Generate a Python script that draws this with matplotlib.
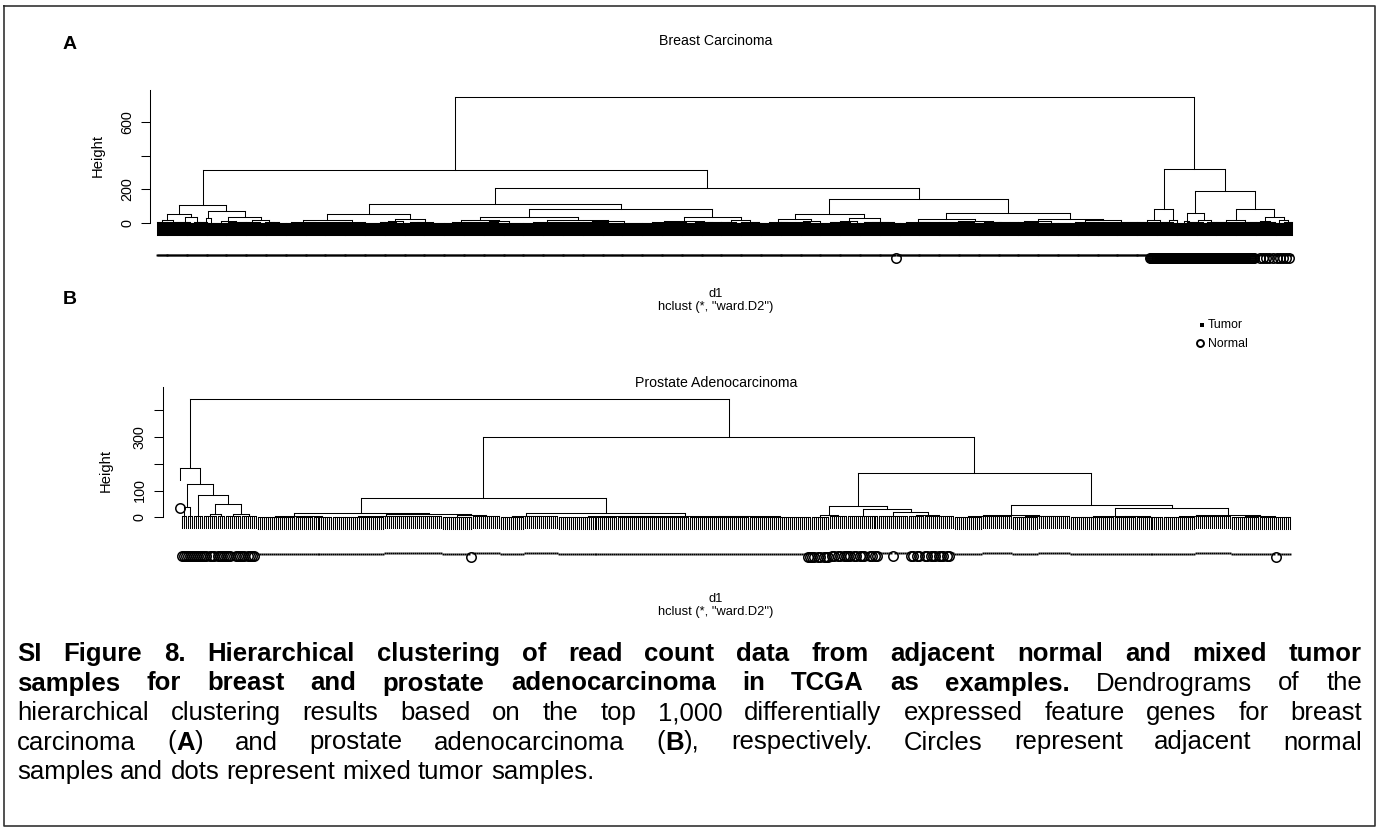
import re

import matplotlib
matplotlib.use('Agg')
import matplotlib.pyplot as plt
import matplotlib.transforms as mtransforms
from matplotlib.collections import LineCollection
from matplotlib.lines import Line2D

W, H = 1380, 831

plt.rcParams['font.family'] = ['Liberation Sans', 'DejaVu Sans']

# Trees: a list [height, child, child, ...] is a merge, a tuple
# (height, 'runs') is a block of leaves joined at that height.
# Runs give the leaf classes in order: '3t1n' = 3 tumor, then 1 normal.
BRCA_TREE = [750,
    [315,
        [109,
            [53,
                [18, (4, "11t"), (6, "13t")],
                [37, (5, "12t"), [9, (3, "6t"), (4, "7t")]]],
            [71,
                [32, (4, "5t"), (3, "6t")],
                [34,
                    [12, (3, "15t"), (5, "17t")],
                    [20, (4, "17t"), [9, (3, "9t"), (5, "11t")]]]]],
        [206,
            [111,
                [53,
                    [20, [8, (3, "24t"), (4, "26t")], [6, (5, "25t"), (3, "30t")]],
                    [26, [11, (4, "18t"), (3, "14t")], [9, (5, "15t"), (3, "18t")]]],
                [83,
                    [37,
                        [20, [7, (3, "22t"), (5, "18t")], [10, (4, "20t"), (3, "22t")]],
                        [18, [8, (3, "30t"), (5, "28t")], [11, (4, "36t"), (2, "32t")]]],
                    [37,
                        [14, [6, (3, "28t"), (4, "22t")], [7, (3, "18t"), (5, "18t")]],
                        [20, [9, (4, "12t"), (3, "8t")], (5, "20t")]]]],
            [143,
                [53,
                    [22, [7, (3, "20t"), (4, "18t")], [10, (5, "16t"), (3, "20t")]],
                    [32, [12, (4, "22t"), (3, "14t")], [8, (4, "18t"), (5, "14t")]]],
                [57,
                    [26, [9, (3, "1t1n22t"), (4, "26t")],
                         [14, (5, "34t"), [6, (3, "20t"), (4, "17t")]]],
                    [26, [10, (4, "30t"), (3, "28t")],
                         [15, [7, (3, "22t"), (4, "18t")], (5, "39t")]]]]]],
    [321,
        [81,
            [15, (4, "10t6n"), (5, "11n")],
            [20, (6, "8n"), (3, "9n")]],
        [190,
            [59,
                [10, (3, "5n"), (4, "6n")],
                [20, (5, "12n"), [8, (3, "7n"), (4, "8n")]]],
            [81,
                [18, (4, "18n"), (5, "20n")],
                [37,
                    [12, (4, "6t1n2t1n2t"), (5, "1n2t1n3t1n2t")],
                    [20, (3, "2t1n2t1n2t1n"), (4, "2t1n2t1n3t")]]]]]]

PRAD_TREE = [442,
    [183,
        (0, "1n"),
        [126,
            [38, (6, "3n"), (4, "3n")],
            [82,
                (5, "5n"),
                [51,
                    [13, (3, "2n1t3n1t"), (5, "4n")],
                    [13, (4, "3n2t3n"), (6, "2n1t4n1t")]]]]],
    [300,
        [73,
            [16,
                [4, [2, (1, "9t"), (1.5, "10t")], [3, (1, "9t"), (2, "10t")]],
                [12, [5, (2, "26t"), (3, "29t")], [7, (2, "14t1n"), (3, "14t")]]],
            [17.5,
                [6, (2, "12t"), (3, "17t")],
                [5, [3, (1, "30t"), (2, "36t")], [4, (2, "30t"), (1.5, "29t2n")]]]],
        [167,
            [43,
                [9, (2, "2n1t2n1t3n"), (4, "1t2n1t2n1t2n")],
                [32,
                    (5, "2n1t2n1t3n2t2n1t2n"),
                    [21, (4, "7t1n7t"),
                         [10, (3, "1t2n1t2n2t"), (5, "2n1t3n1t3n1t2n2t")]]]],
            [45,
                [7.5, [4, (2, "14t"), (3, "15t")], [5, (1.5, "13t"), (3, "16t")]],
                [36,
                    [5, [2, (1, "12t"), (1.5, "10t")], [3, (1, "11t"), (2, "14t")]],
                    [8.5, [4, (2, "16t"), (3, "18t")],
                          [3, (1.5, "14t"), (2, "8t1n7t")]]]]]]]

BRCA_TICKS = [0, 200, 400, 600]
BRCA_TICK_LABELS = ['0', '200', '', '600']
PRAD_TICKS = [0, 100, 200, 300, 400]
PRAD_TICK_LABELS = ['0', '100', '', '300', '']

TITLES = ['Breast Carcinoma', 'Prostate Adenocarcinoma']
PANEL_TAGS = ['A', 'B']
XLABEL = 'd1'
SUBLABEL = 'hclust (*, "ward.D2")'
LEGEND_LABELS = ['Tumor', 'Normal']

CAPTION = [
    [("SI Figure 8. Hierarchical clustering of read count data from adjacent "
      "normal and mixed tumor", True)],
    [("samples for breast and prostate adenocarcinoma in TCGA as examples.", True),
     (" Dendrograms of the", False)],
    [("hierarchical clustering results based on the top 1,000 differentially "
      "expressed feature genes for breast", False)],
    [("carcinoma (", False), ("A", True), (") and prostate adenocarcinoma (", False),
     ("B", True), ("), respectively. Circles represent adjacent normal", False)],
    [("samples and dots represent mixed tumor samples.", False)],
]

fig = plt.figure(figsize=(W / 100, H / 100), dpi=100)
# pixel coordinates measured from the top-left corner
px = mtransforms.Affine2D().scale(1 / W, -1 / H).translate(0, 1) + fig.transFigure


def expand(runs):
    out = []
    for n, k in re.findall(r'(\d+)([tn])', runs):
        out += [k] * int(n)
    return out


def build(node, parent_h, hang, st):
    """Lay out a tree; returns x and top height, fills segments and leaves."""
    if isinstance(node, tuple):
        h, runs = node
        kinds = expand(runs)
        if len(kinds) == 1:
            h = parent_h
        xs = []
        for k in kinds:
            x = st['n']
            st['n'] += 1
            st['segs'].append([(x, h), (x, h - hang)])
            st['leaves'].append((x, h - hang, k))
            xs.append(x)
        if len(xs) > 1:
            st['segs'].append([(xs[0], h), (xs[-1], h)])
        return (xs[0] + xs[-1]) / 2, h
    h = node[0]
    tops = [build(c, h, hang, st) for c in node[1:]]
    for x, t in tops:
        if t < h:
            st['segs'].append([(x, t), (x, h)])
    st['segs'].append([(tops[0][0], h), (tops[-1][0], h)])
    return (tops[0][0] + tops[-1][0]) / 2, h


def draw_panel(tree, box, ylim, ticks, tick_labels, axis_top, gap, drop):
    left, top, right, bottom = box
    ax = fig.add_axes([left / W, 1 - bottom / H, (right - left) / W, (bottom - top) / H])
    hang = 0.1 * tree[0]
    st = {'n': 0, 'segs': [], 'leaves': []}
    build(tree, tree[0], hang, st)
    ax.add_collection(LineCollection(st['segs'], colors='black', linewidths=0.75,
                                     capstyle='projecting', clip_on=False))
    ax.set_xlim(0, st['n'] - 1)
    ax.set_ylim(*ylim)

    dots = [(x, y) for x, y, k in st['leaves'] if k == 't']
    rings = [(x, y) for x, y, k in st['leaves'] if k == 'n']
    t_dot = mtransforms.offset_copy(ax.transData, fig=fig, y=-drop, units='dots')
    t_ring = mtransforms.offset_copy(ax.transData, fig=fig, y=-drop - 3, units='dots')
    ax.plot(*zip(*dots), 's', ms=1.4, color='black', mew=0, transform=t_dot, clip_on=False)
    ax.plot(*zip(*rings), 'o', ms=6.8, mfc='none', mec='black', mew=1.1,
            transform=t_ring, clip_on=False)

    for s in ['top', 'right', 'bottom']:
        ax.spines[s].set_visible(False)
    ax.spines['left'].set_position(('outward', gap * 0.72))
    ax.spines['left'].set_bounds(0, axis_top)
    ax.spines['left'].set_linewidth(0.75)
    ax.set_xticks([])
    ax.set_yticks(ticks, tick_labels)
    for lbl in ax.get_yticklabels():
        lbl.set_rotation(90)
        lbl.set_va('center')
    ax.tick_params(axis='y', length=6.5, width=0.75, pad=5, labelsize=10.4)
    ax.patch.set_visible(False)
    return ax


draw_panel(BRCA_TREE, (157, 90, 1291.7, 256.7), (-200, 790),
           BRCA_TICKS, BRCA_TICK_LABELS, 790, 7, 20)
draw_panel(PRAD_TREE, (180, 387, 1290, 544.05), (-100, 487),
           PRAD_TICKS, PRAD_TICK_LABELS, 487, 17.3, 25)

# panel texts
for tag, ty in zip(PANEL_TAGS, [49, 304]):
    fig.text(63, ty, tag, transform=px, fontsize=14, weight='bold', va='baseline')
for title, ty in zip(TITLES, [45, 387]):
    fig.text(716, ty, title, transform=px, fontsize=10.2, ha='center', va='baseline')
for hx, hy in [(98, 155.6), (105.5, 470.5)]:
    fig.text(hx, hy, 'Height', transform=px, fontsize=10.6, rotation=90,
             ha='center', va='center')
for y1, y2 in [(297, 310), (602, 615)]:
    fig.text(716, y1, XLABEL, transform=px, fontsize=9.3, ha='center', va='baseline')
    fig.text(716, y2, SUBLABEL, transform=px, fontsize=9.3, ha='center', va='baseline')

# legend
fig.add_artist(Line2D([1202], [324.5], marker='s', ms=2.2, color='black', mew=0,
                      linestyle='none', transform=px))
fig.add_artist(Line2D([1200], [343], marker='o', ms=5, mfc='none', mec='black',
                      mew=1.4, linestyle='none', transform=px))
for lab, ly in zip(LEGEND_LABELS, [328.5, 347]):
    fig.text(1208, ly, lab, transform=px, fontsize=8.8, va='baseline')

# frame around the whole figure
fig.add_artist(Line2D([4, 1375, 1375, 4, 4], [6, 6, 826, 826, 6], color='#333333',
                      lw=1.2, transform=px))

# justified caption
CAP_FS = 18.5
CAP_LEFT, CAP_RIGHT = 17, 1362
renderer = fig.canvas.get_renderer()


def text_width(s, bold):
    t = fig.text(0, 0, s, transform=px, fontsize=CAP_FS,
                 weight='bold' if bold else 'normal')
    w = t.get_window_extent(renderer).width
    t.remove()
    return w


space_w = text_width('a a', False) - text_width('aa', False)

for i, runs in enumerate(CAPTION):
    y = 661 + i * 29.5
    words = [[]]
    for text, bold in runs:
        for j, part in enumerate(text.split(' ')):
            if j:
                words.append([])
            if part:
                words[-1].append((part, bold))
    words = [w for w in words if w]
    widths = [sum(text_width(p, b) for p, b in w) for w in words]
    if i < len(CAPTION) - 1:
        gap = (CAP_RIGHT - CAP_LEFT - sum(widths)) / (len(words) - 1)
    else:
        gap = space_w
    x = CAP_LEFT
    for w, ww in zip(words, widths):
        xx = x
        for p, b in w:
            fig.text(xx, y, p, transform=px, fontsize=CAP_FS,
                     weight='bold' if b else 'normal', va='baseline')
            xx += text_width(p, b)
        x += ww + gap

fig.savefig('out.png', dpi=100)
